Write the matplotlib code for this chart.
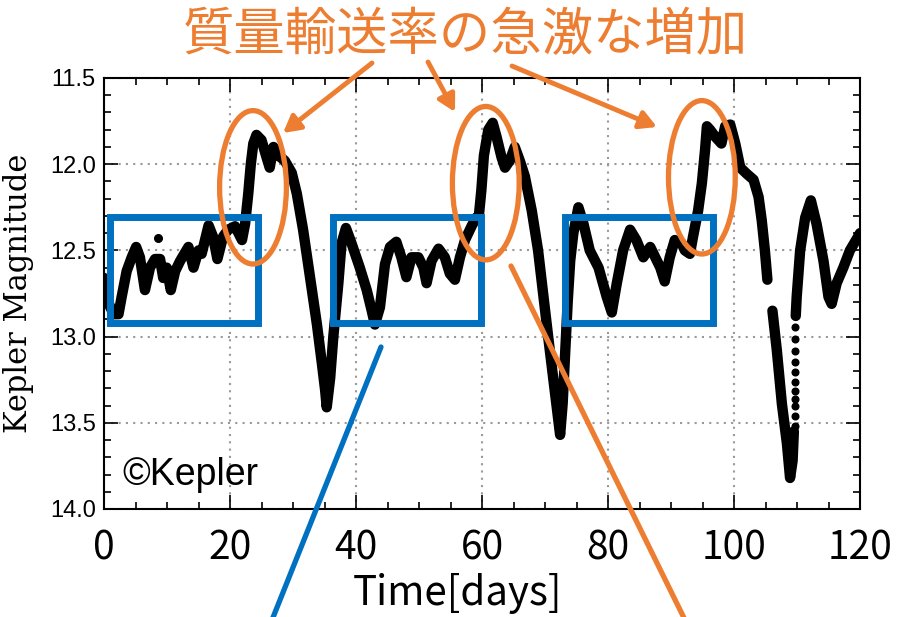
import numpy as np
import matplotlib.pyplot as plt
from matplotlib.patches import Ellipse, Rectangle

plt.rcParams['font.family'] = ['Noto Sans CJK JP', 'DejaVu Sans']

# light curve (days, Kepler magnitude)
time_a = [0.0, 0.5, 1.0, 1.6, 2.3, 2.8, 3.6, 4.4, 5.1, 5.7, 6.5, 7.3, 8.1, 8.9, 9.4, 9.95,
          10.6, 11.3, 12.1, 13.4, 14.2, 15.0, 15.5, 16.6, 17.3, 18.0, 18.9, 19.7, 20.8, 21.9,
          22.4, 22.9, 23.3, 23.7, 24.2, 25.0, 25.8, 26.3, 26.9, 27.7, 28.7, 29.8, 30.6, 31.6,
          32.7, 33.8, 34.6, 35.1, 35.35, 35.9, 36.4, 37.2, 37.7, 38.4, 39.3, 40.6, 41.7, 42.5,
          43.0, 43.8, 44.6, 45.4, 46.4, 47.2, 48.0, 48.8, 49.9, 50.7, 51.2, 52.0, 53.1, 54.1,
          54.9, 55.7, 56.5, 57.3, 58.4, 59.1, 59.5, 59.9, 60.3, 61.0, 61.7, 62.3, 63.1, 63.65,
          64.4, 65.2, 66.0, 66.8, 67.9, 68.9, 69.7, 70.5, 71.3, 71.95, 72.4, 72.8, 73.2, 73.6,
          74.0, 74.5, 75.3, 76.1, 77.1, 78.5, 79.8, 80.6, 81.4, 82.4, 83.5, 84.5, 85.6, 86.7,
          87.5, 88.3, 89.0, 89.8, 90.6, 91.7, 92.2, 93.0, 93.5, 94.3, 94.9, 95.4, 95.7, 96.2,
          97.0, 98.0, 98.6, 99.4, 100.2, 101.0, 102.0, 103.1, 103.9, 104.4, 104.9, 105.3]
mag_a = [12.66, 12.78, 12.83, 12.87, 12.87, 12.77, 12.62, 12.54, 12.48, 12.54, 12.73, 12.60,
         12.55, 12.55, 12.66, 12.60, 12.73, 12.62, 12.56, 12.48, 12.60, 12.50, 12.52, 12.355,
         12.42, 12.55, 12.42, 12.38, 12.36, 12.44, 12.345, 12.17, 12.00, 11.88, 11.83, 11.86,
         11.96, 12.02, 11.90, 11.95, 11.98, 12.05, 12.17, 12.38, 12.655, 12.93, 13.16, 13.31,
         13.41, 13.24, 13.00, 12.69, 12.46, 12.37, 12.46, 12.60, 12.73, 12.85, 12.93, 12.83,
         12.58, 12.48, 12.45, 12.54, 12.655, 12.54, 12.54, 12.60, 12.69, 12.56, 12.49, 12.54,
         12.635, 12.67, 12.54, 12.44, 12.355, 12.31, 12.30, 12.15, 11.95, 11.80, 11.76, 11.84,
         11.96, 12.02, 11.98, 11.90, 11.98, 12.07, 12.27, 12.50, 12.75, 13.00, 13.24, 13.43,
         13.57, 13.39, 13.10, 12.80, 12.56, 12.40, 12.25, 12.345, 12.50, 12.60, 12.77, 12.86,
         12.69, 12.50, 12.38, 12.44, 12.54, 12.48, 12.54, 12.60, 12.68, 12.54, 12.44, 12.46,
         12.50, 12.52, 12.42, 12.27, 12.11, 11.92, 11.78, 11.80, 11.84, 11.88, 11.78, 11.77,
         11.88, 12.02, 12.055, 12.09, 12.19, 12.325, 12.50, 12.67]
time_b = [106.1, 106.8, 107.6, 108.4, 108.9, 109.3, 109.5]
mag_b = [12.85, 13.08, 13.39, 13.62, 13.82, 13.72, 13.55]
rise_t = [109.62, 109.64, 109.66, 109.67, 109.68, 109.69, 109.70, 109.71, 109.72, 109.73, 109.74]
rise_m = [13.517, 13.459, 13.401, 13.362, 13.314, 13.265, 13.207, 13.149, 13.081, 13.013, 12.946]
time_c = [109.8, 109.95, 110.5, 111.3, 112.2, 113.1, 114.2, 115.0, 115.5, 116.3, 117.35,
          118.4, 119.7, 120.0]
mag_c = [12.88, 12.77, 12.50, 12.31, 12.21, 12.345, 12.56, 12.77, 12.81, 12.69, 12.60,
         12.50, 12.42, 12.40]
stray_t = [8.5]
stray_m = [12.43]

title = "質量輸送率の急激な増加"
orange = '#ED7D31'
blue = '#0070C0'

fig = plt.figure(figsize=(9.01, 6.17), dpi=100)
ax = fig.add_axes([104/901, 1-509/617, 756/901, 431/617])

for t, m in [(time_a, mag_a), (time_b, mag_b), (time_c, mag_c)]:
    ax.plot(t, m, color='black', lw=7.5, solid_capstyle='round', solid_joinstyle='round', zorder=3)
ax.plot(rise_t, rise_m, 'o', color='black', ms=4.8, zorder=3)
ax.plot(stray_t, stray_m, 'o', color='black', ms=5.5, zorder=3)

ax.set_xlim(0, 120)
ax.set_ylim(14.0, 11.5)
ax.set_xticks(np.arange(0, 121, 20))
ax.set_xticks(np.arange(0, 121, 5), minor=True)
ax.set_yticks(np.arange(11.5, 14.01, 0.5))
ax.set_yticks(np.arange(11.5, 14.01, 0.1), minor=True)
ax.set_yticklabels(["%.1f" % v for v in np.arange(11.5, 14.01, 0.5)], family='Liberation Sans', fontsize=17)
ax.tick_params(which='both', direction='in', top=True, right=True, width=1.2)
ax.tick_params(which='major', length=10)
ax.tick_params(which='minor', length=5)
ax.tick_params(axis='x', labelsize=28, pad=14)
ax.tick_params(axis='y', pad=6)
for s in ax.spines.values():
    s.set_linewidth(1.5)
ax.grid(True, which='major', color='#999999', linestyle=(0, (1, 2.5)), linewidth=1.5)
ax.set_axisbelow(True)

ax.set_xlabel("Time[days]", fontsize=29)
ax.xaxis.set_label_coords(0.468, -0.148)
ax.set_ylabel("Kepler Magnitude", family='DejaVu Serif', fontsize=22)
ax.yaxis.set_label_coords(-0.092, 0.5)

ax.text(0.024, 0.056, "©Kepler", transform=ax.transAxes, family='Liberation Sans',
        fontsize=27, va='baseline', ha='left')

# blue boxes and orange ellipses
for x0, x1 in [(0.95, 24.4), (36.3, 59.8), (73.2, 96.7)]:
    ax.add_patch(Rectangle((x0, 12.308), x1 - x0, 0.616, fill=False, edgecolor=blue,
                           lw=5, zorder=5, clip_on=False))
for cx, cy in [(23.65, 12.134), (60.6, 12.11), (94.9, 12.076)]:
    ax.add_patch(Ellipse((cx, cy), 10.6, 0.89, fill=False, edgecolor=orange, lw=3.8, zorder=6))

fig.text(465/901, 1-35/617, title, color=orange, fontsize=37, ha='center', va='center')

H = 617
for tail, tip in [((372, 63), (283, 133)), ((428, 62), (455, 112)), ((512, 66), (657, 127))]:
    ax.annotate('', xy=(tip[0], H - tip[1]), xytext=(tail[0], H - tail[1]),
                xycoords='figure pixels', textcoords='figure pixels',
                arrowprops=dict(arrowstyle='-|>,head_length=1.0,head_width=0.55', color=orange,
                                lw=3.5, shrinkA=0, shrinkB=0), zorder=7)

# pointer lines running off the bottom edge
for p0, p1, c in [((381, 347), (272, 620), blue), ((511, 266), (685, 620), orange)]:
    ax.annotate('', xy=(p1[0], H - p1[1]), xytext=(p0[0], H - p0[1]), xycoords='figure pixels',
                textcoords='figure pixels', arrowprops=dict(arrowstyle='-', color=c, lw=3.8,
                                                            shrinkA=0, shrinkB=0), zorder=7)

fig.savefig('out.png', dpi=100)
